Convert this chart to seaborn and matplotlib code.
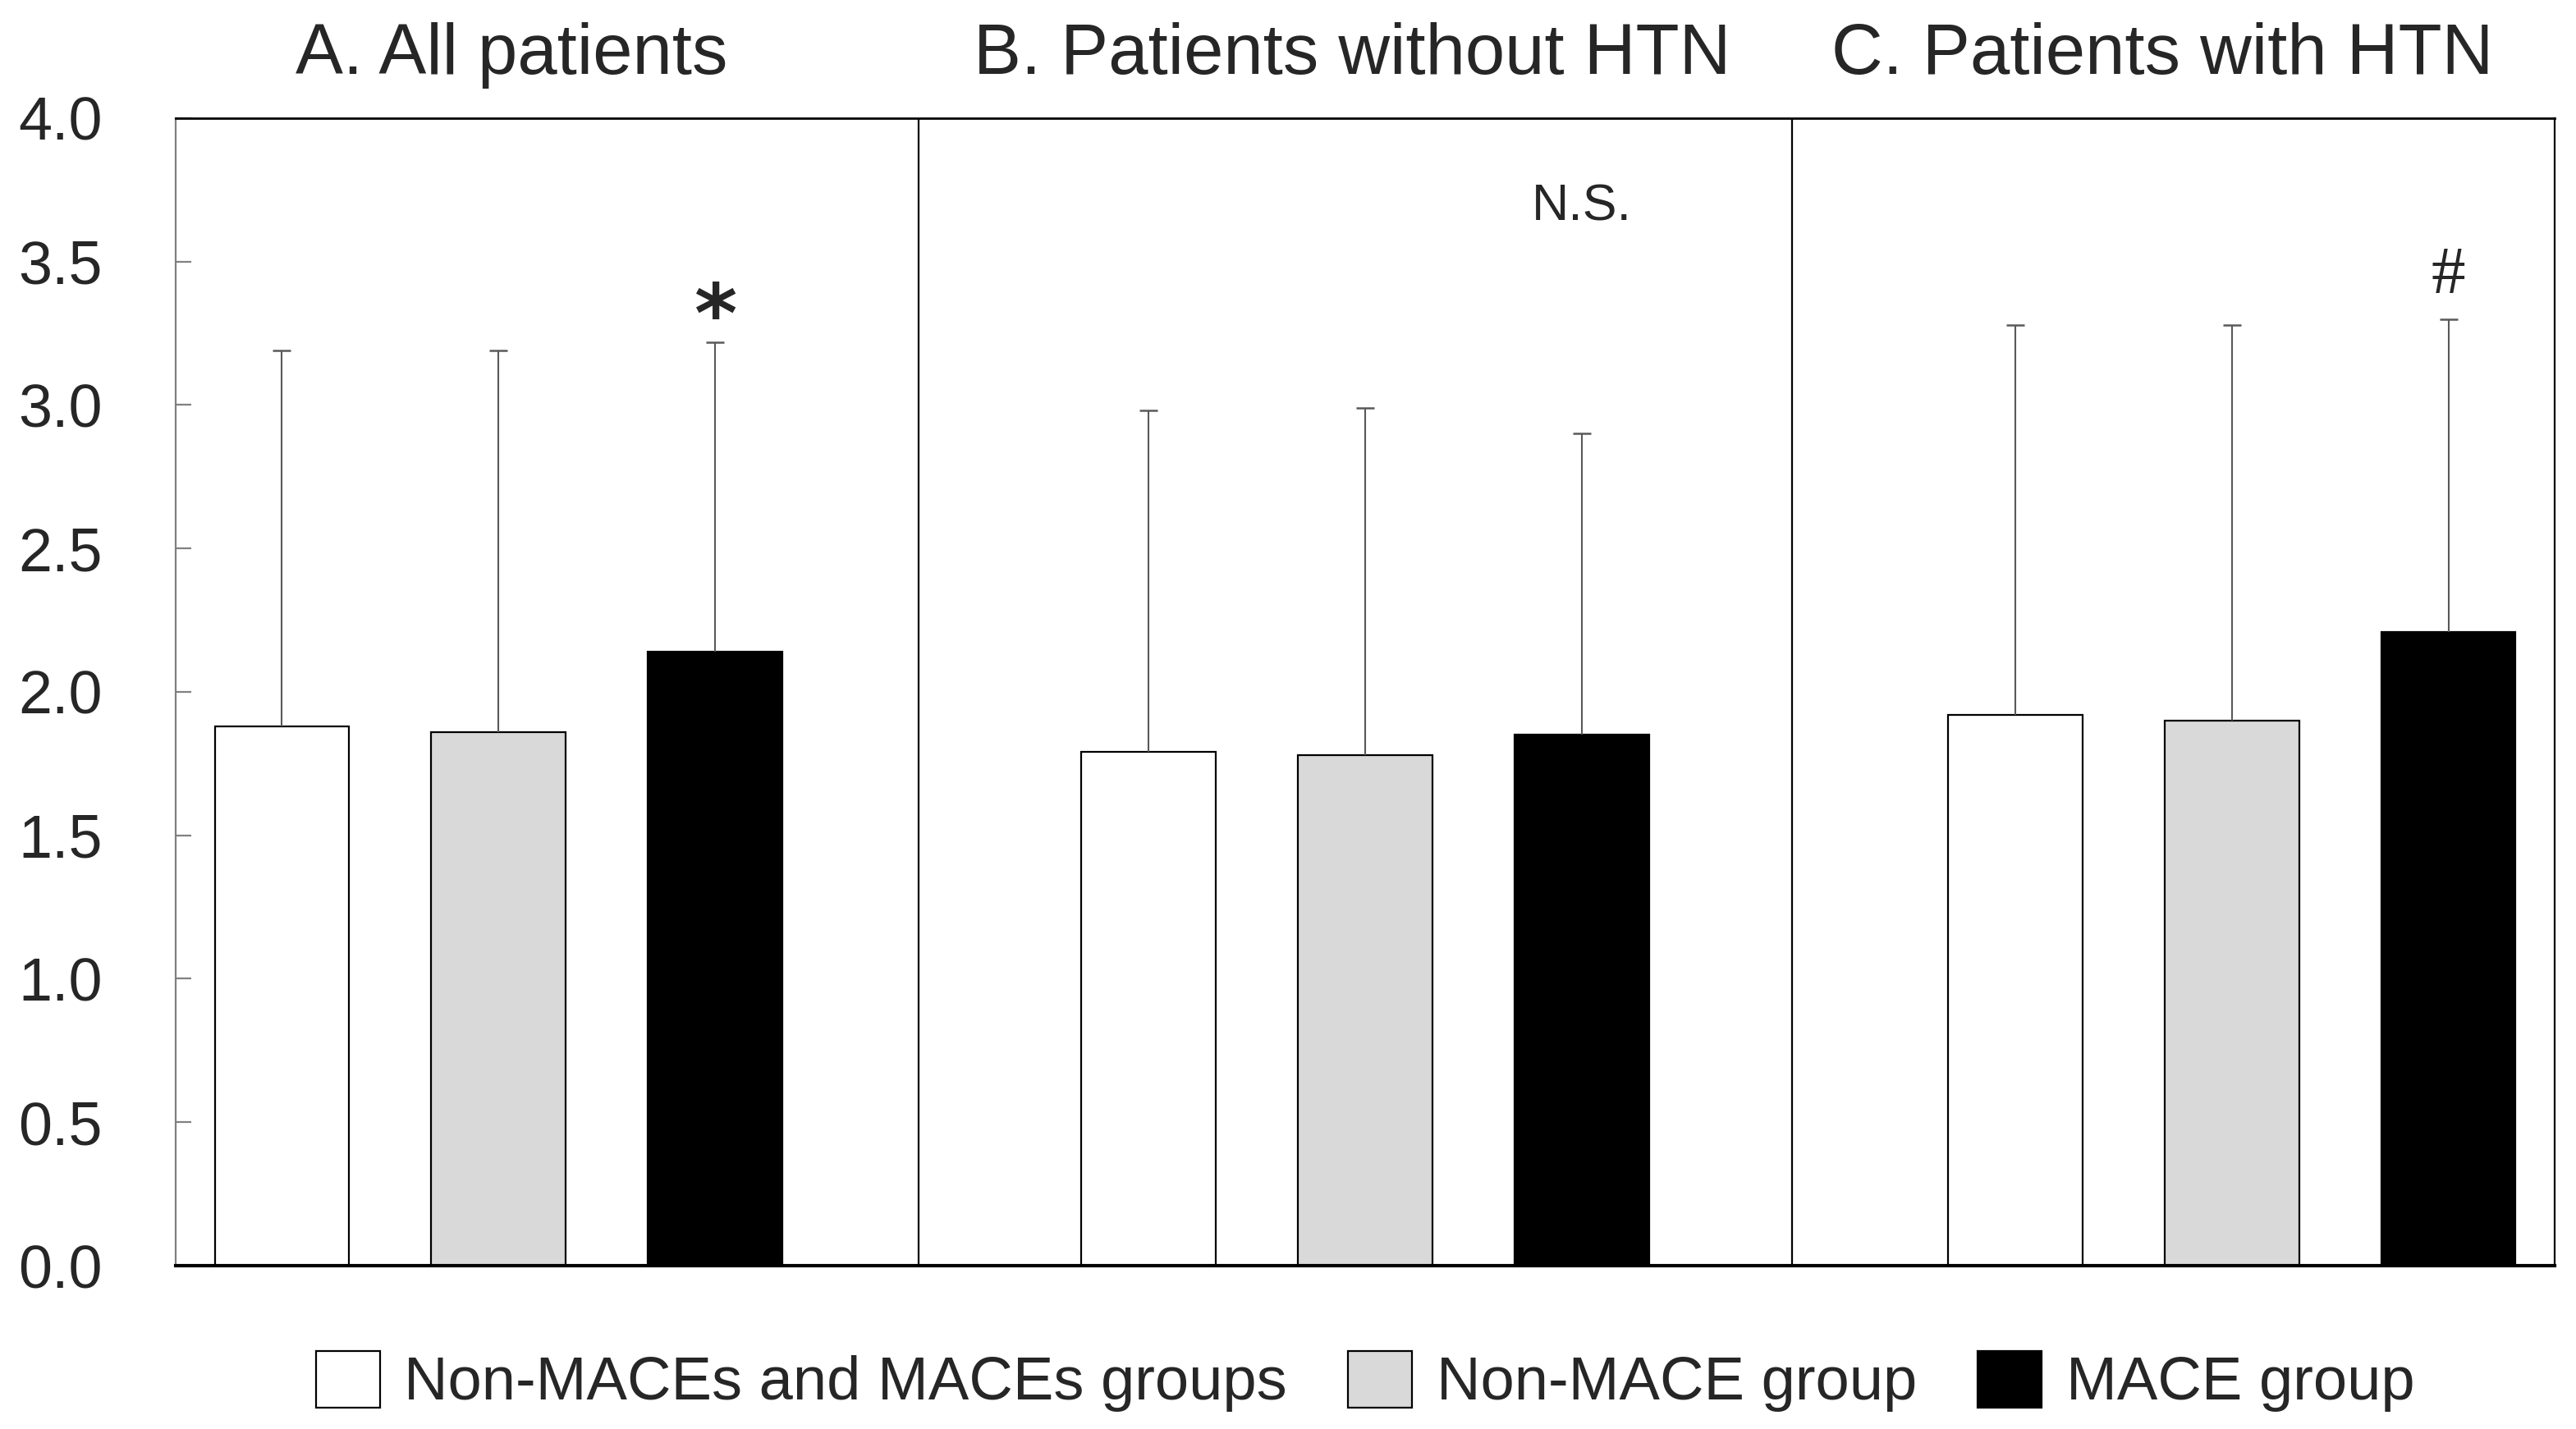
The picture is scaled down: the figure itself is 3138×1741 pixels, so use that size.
import numpy as np
import pandas as pd
import seaborn as sns
import matplotlib.pyplot as plt
import matplotlib.transforms as mtransforms

# values
panels = ['A. All patients', 'B. Patients without HTN', 'C. Patients with HTN']
groups = ['Non-MACEs and MACEs groups', 'Non-MACE group', 'MACE group']
means_a = [1.88, 1.86, 2.14]
means_b = [1.79, 1.78, 1.85]
means_c = [1.92, 1.90, 2.21]
upper_a = [3.19, 3.19, 3.22]
upper_b = [2.98, 2.99, 2.90]
upper_c = [3.28, 3.28, 3.30]
marks = ['*', 'N.S.', '#']
yticks = [0.0, 0.5, 1.0, 1.5, 2.0, 2.5, 3.0, 3.5, 4.0]

colors = dict(zip(groups, ['white', '#d9d9d9', 'black']))

# one slot per bar, with an empty slot between the panels
slot_order = ['A1', 'A2', 'A3', 'gap1', 'B1', 'B2', 'B3', 'gap2', 'C1', 'C2', 'C3']
rows = []
for p, means, uppers in zip('ABC', [means_a, means_b, means_c], [upper_a, upper_b, upper_c]):
    for i, g in enumerate(groups):
        rows.append({'slot': f'{p}{i + 1}', 'group': g, 'mean': means[i], 'upper': uppers[i]})
df = pd.DataFrame(rows)

sns.set_style('white')
plt.rcParams['font.family'] = ['Liberation Sans', 'DejaVu Sans']

fig = plt.figure(figsize=(15.69, 8.705), dpi=200)
ax = fig.add_axes([0.0682, 0.1143, 0.9235, 0.803])

sns.barplot(data=df, x='slot', y='mean', hue='group', order=slot_order, hue_order=groups,
            palette=colors, dodge=False, width=0.62, edgecolor='black', linewidth=0.8,
            errorbar=None, ax=ax)

# upward-only SD bars
xpos = [slot_order.index(s) for s in df['slot']]
eb = ax.errorbar(xpos, df['mean'], yerr=[np.zeros(len(df)), df['upper'] - df['mean']],
                 fmt='none', ecolor='#595959', elinewidth=0.75, capsize=4, capthick=0.9)
eb[1][0].set_visible(False)

# panel dividers
for xd in [2.94, 6.97]:
    ax.axvline(xd, color='black', lw=0.8)

ax.set_xlim(-0.49, 10.49)
ax.set_ylim(0, 4)
ax.set_xticks([])
ax.set_xlabel('')
ax.set_ylabel('')
ax.set_yticks(yticks)
ax.set_yticklabels([f'{t:.1f}' for t in yticks])
ax.tick_params(axis='y', left=True, direction='in', length=7, width=0.8,
               color='#808080', pad=32, labelsize=26.5)

ax.spines['left'].set_color('#808080')
ax.spines['left'].set_linewidth(0.8)
ax.spines['top'].set_color('black')
ax.spines['top'].set_linewidth(1.0)
ax.spines['right'].set_color('black')
ax.spines['right'].set_linewidth(0.8)
ax.spines['bottom'].set_color('black')
ax.spines['bottom'].set_linewidth(1.5)

trans = mtransforms.blended_transform_factory(ax.transData, ax.transAxes)
for tx, title in zip([1.06, 4.94, 8.68], panels):
    ax.text(tx, 1.0386, title, transform=trans, ha='center', va='baseline', fontsize=31.3)

# significance marks above the MACE bars
ax.text(2, 3.22, marks[0], ha='center', va='baseline', fontsize=36, fontweight='bold',
        family='DejaVu Sans')
ax.text(6, 3.645, marks[1], ha='center', va='baseline', fontsize=22.5)
ax.text(10, 3.39, marks[2], ha='center', va='baseline', fontsize=30, family='Liberation Serif')

sns.move_legend(ax, 'center', bbox_to_anchor=(0.5, -0.1009), ncol=3, frameon=False,
                title=None, fontsize=26.7, handlelength=1.05, handleheight=1.05,
                handletextpad=0.4, columnspacing=1.0)
for h in ax.get_legend().legend_handles:
    h.set_edgecolor('black')
    h.set_linewidth(0.8)

fig.savefig('out.png', dpi=200)
